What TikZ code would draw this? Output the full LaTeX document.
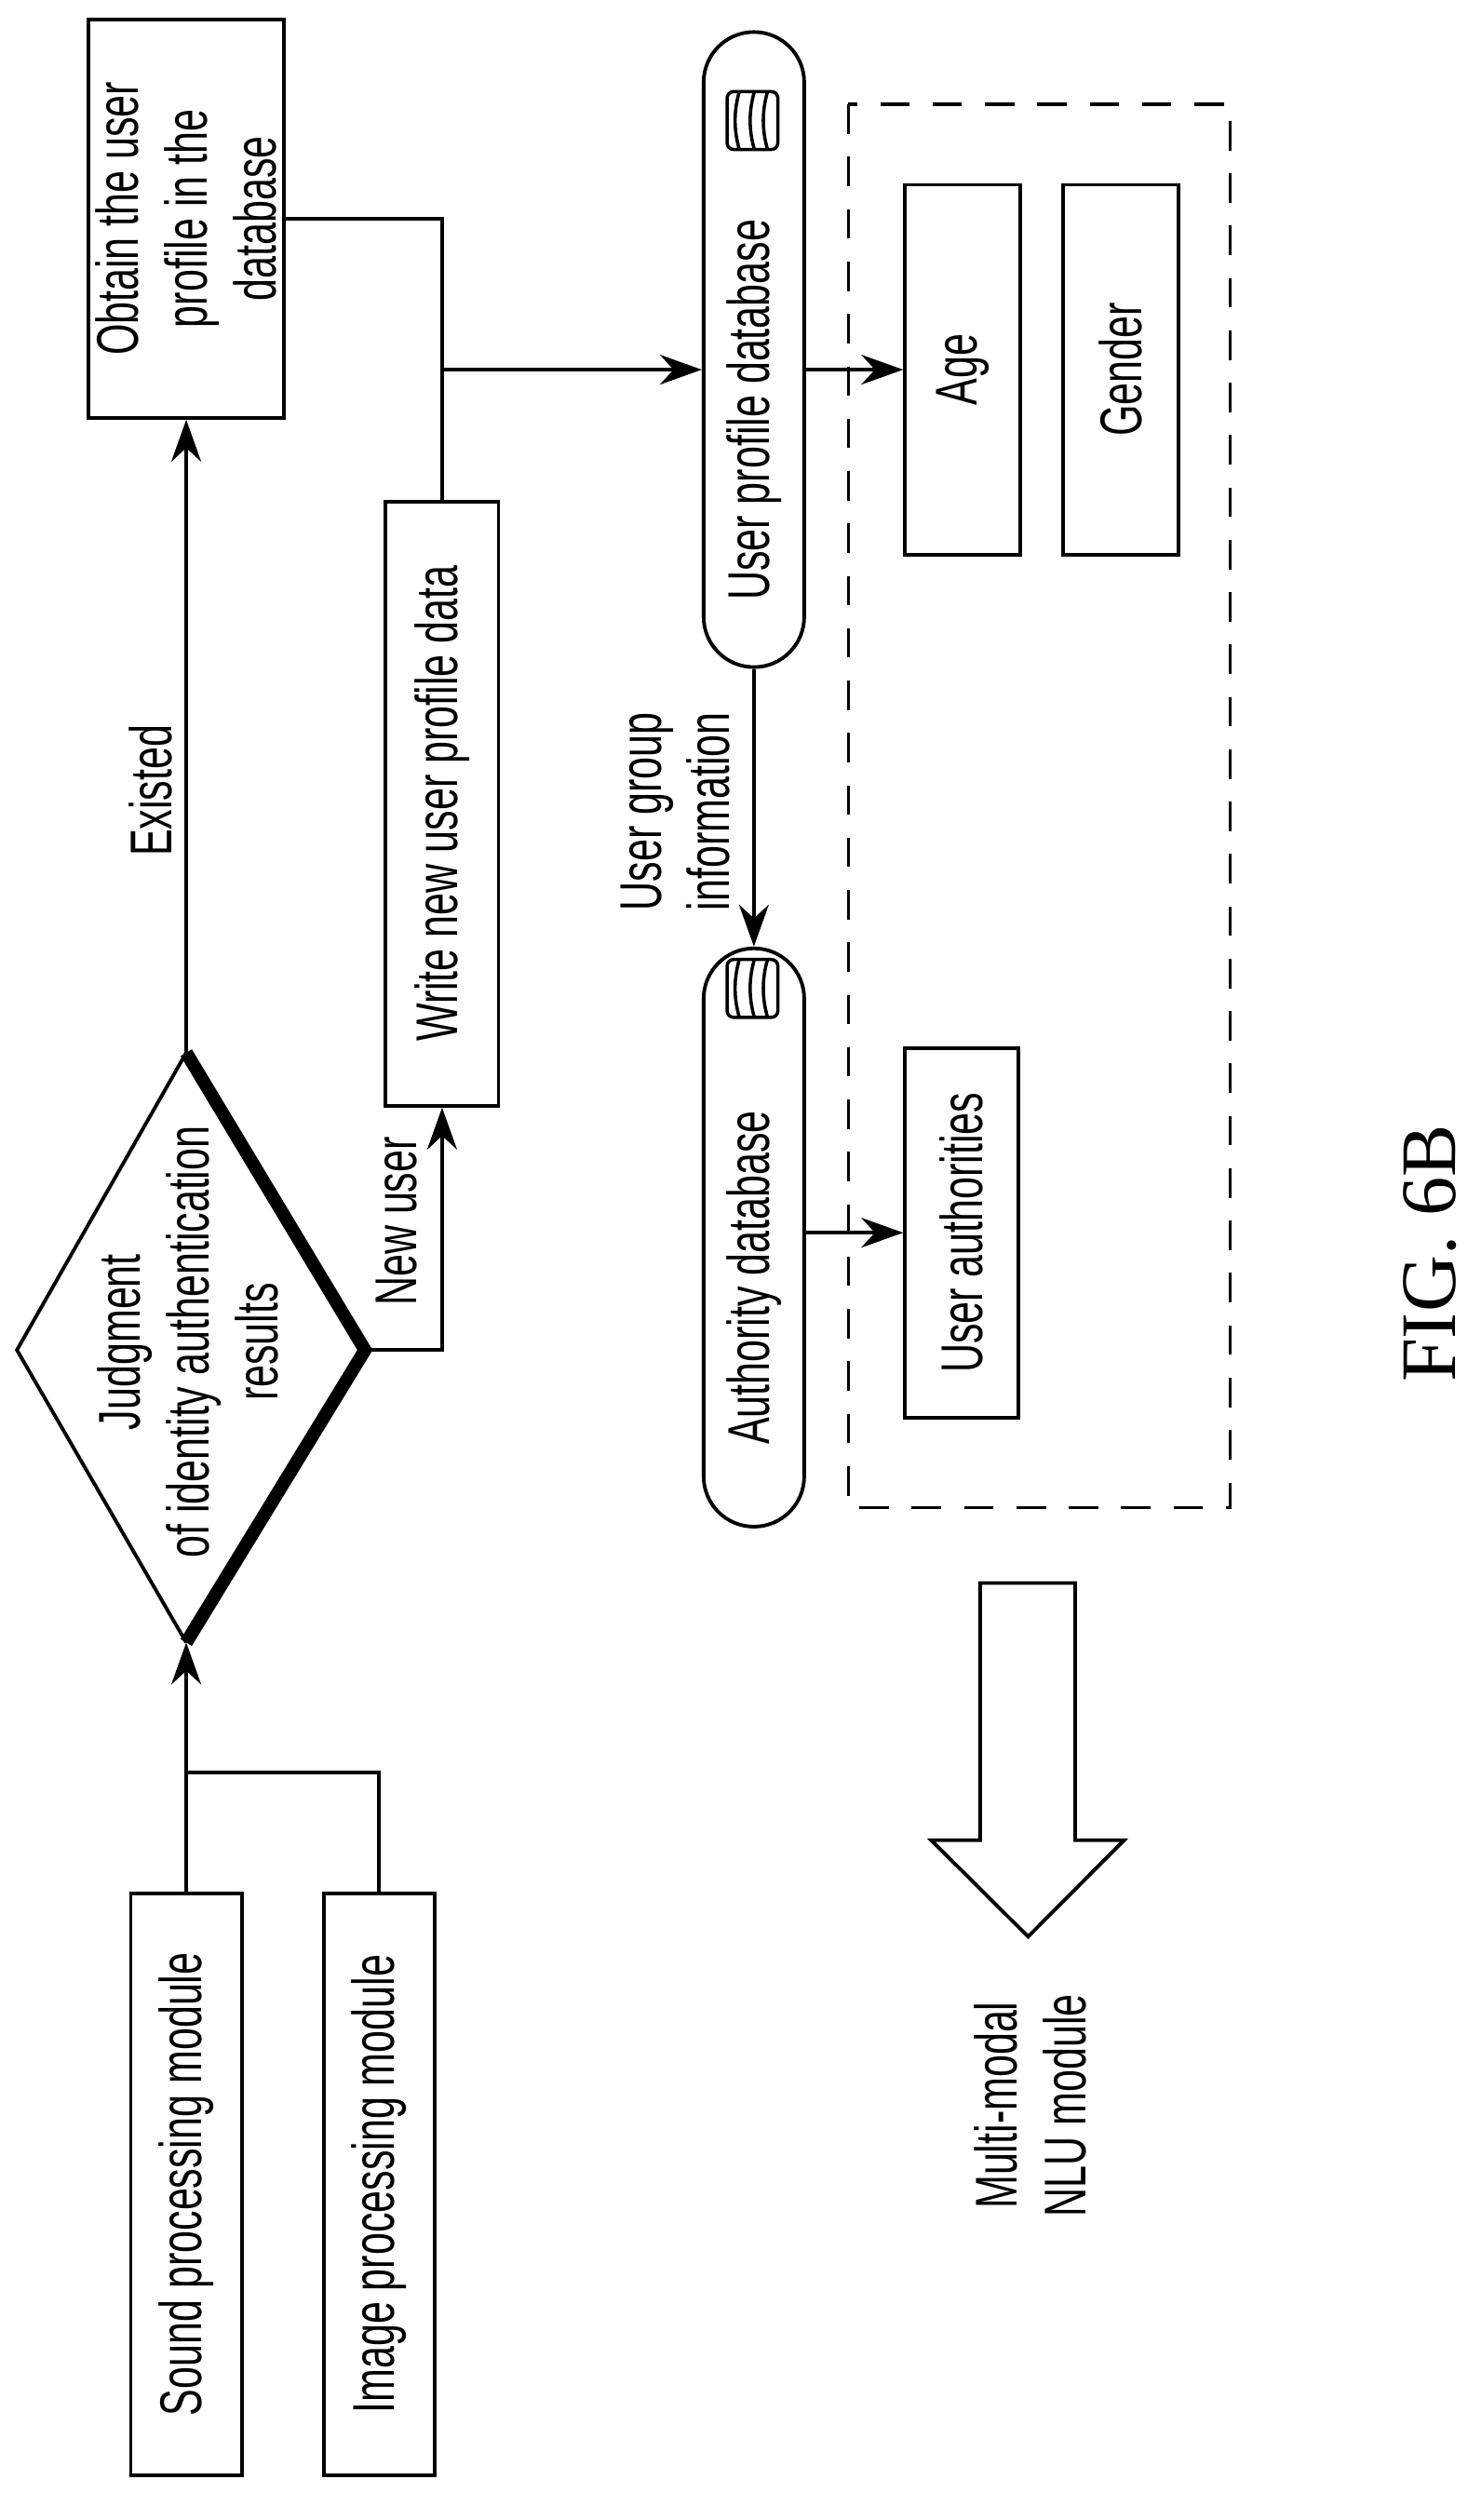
\documentclass[tikz,border=0pt]{standalone}
\usepackage{fontspec}
\setmainfont{Liberation Serif}
\newfontfamily\lab[FakeStretch=0.68]{Liberation Sans}
\usetikzlibrary{arrows.meta}
\begin{document}
\begin{tikzpicture}[x=0.0101cm,y=-0.01726cm,
  every node/.style={font=\lab\fontsize{18}{21}\selectfont, align=center},
  box/.style={draw, line width=1.1pt, rotate=90, inner sep=0pt},
  pill/.style={box, rounded corners=0.54cm},
  ln/.style={line width=1.1pt},
  arr/.style={ln, -{Stealth[length=4.5mm,width=3.2mm]}},
  lbl/.style={rotate=90, inner sep=1pt}]
\useasboundingbox (0,0) rectangle (1560,1568);
\node[box, minimum width=6.25cm, minimum height=1.19cm] (snd) at (198,1359) {Sound processing module};
\node[box, minimum width=6.25cm, minimum height=1.19cm] (img) at (403,1359) {Image processing module};
\node[box, minimum width=4.28cm, minimum height=2.10cm] (obt) at (198,136) {Obtain the user\\profile in the\\database};
\node[box, minimum width=6.49cm, minimum height=1.21cm] (wrt) at (470,500) {Write new user profile data};
\node[pill, minimum width=6.82cm, minimum height=1.08cm] (updb) at (801.5,217.5) {};
\node[lbl] at (801.5,255) {User profile database};
\node[pill, minimum width=6.21cm, minimum height=1.08cm] (adb) at (801.5,770) {};
\node[lbl] at (801.5,795) {Authority database};
\draw[line width=1pt, dash pattern=on 9pt off 7pt] (902,65) rectangle (1308,938);
\node[box, minimum width=3.97cm, minimum height=1.24cm] (age) at (1023.5,230) {Age};
\node[box, minimum width=3.97cm, minimum height=1.24cm] (gen) at (1191.5,230) {Gender};
\node[box, minimum width=3.97cm, minimum height=1.22cm] (ua) at (1022.5,767) {User authorities};
% database icons
\foreach \c in {75,615}{
  \begin{scope}[shift={(800,\c)}]
  \draw[line width=1pt, rounded corners=2pt] (-27,-18) rectangle (27,18);
  \draw[line width=1pt] (-14,-18) .. controls (-20,-6) and (-20,6) .. (-14,18);
  \draw[line width=1pt] (2,-18) .. controls (-4,-6) and (-4,6) .. (2,18);
  \draw[line width=1pt] (16,-18) .. controls (10,-6) and (10,6) .. (16,18);
  \end{scope}}
% diamond
\coordinate (dt) at (198,655); \coordinate (db) at (198,1022);
\coordinate (dl) at (18,840); \coordinate (dr) at (388,840);
\draw[line width=1.1pt] (dt) -- (dl) -- (db);
\draw[line width=4pt, line join=miter] (dt) -- (dr) -- (db);
\node[lbl] (dtx) at (200,835) {Judgment\\of identity authentication\\results};
% connectors
\draw[arr] (snd.east) -- (db);
\coordinate (j1) at (198,1103);
\draw[ln] (j1) -| (img.east);
\draw[arr] (dt) -- (obt.west);
\node[lbl] at (160,492) {Existed};
\draw[arr] (dr) -| (wrt.west);
\node[lbl] at (422,760) {New user};
\draw[ln] (obt.south) -| (wrt.east);
\coordinate (j2) at (470,230);
\draw[arr] (j2) -- (updb.north |- j2);
\draw[arr] (updb.west) -- (adb.east);
\node[lbl] at (718,505) {User group\\information};
\draw[arr] (updb.south |- age) -- (age.north);
\draw[arr] (adb.south |- ua) -- (ua.north);
% big arrow
\draw[ln] (1042,985) -- (1143,985) -- (1143,1145) -- (1195,1145) -- (1093,1205) -- (990,1145) -- (1042,1145) -- cycle;
\node[lbl] at (1095,1310) {Multi-modal\\NLU module};
\node[rotate=90, font=\rmfamily\fontsize{24}{28}\selectfont] at (1520,780) {FIG. 6B};
\end{tikzpicture}
\end{document}
